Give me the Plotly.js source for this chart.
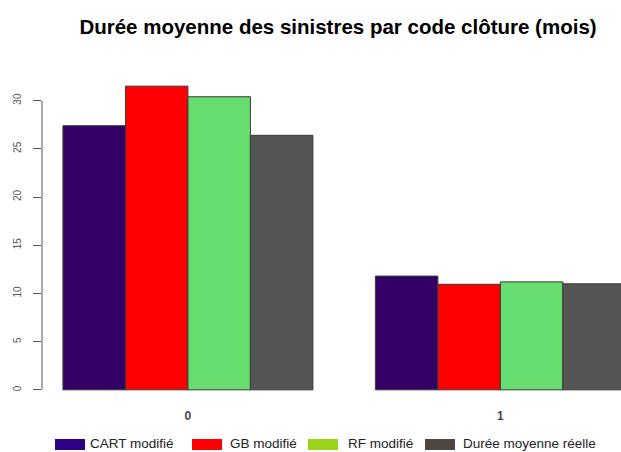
<!DOCTYPE html>
<html>
<head>
<meta charset="utf-8">
<script src="https://cdn.plot.ly/plotly-3.0.1.min.js"></script>
<style>html,body{margin:0;padding:0;background:#fff;}</style>
</head>
<body>
<div id="chart" style="width:621px;height:452px;"></div>
<script>
// Data
const categories = ["0", "1"];
const seriesNames = ["CART modifié", "GB modifié", "RF modifié", "Durée moyenne réelle"];
const cartValues = [27.4, 11.8];
const gbValues = [31.5, 10.95];
const rfValues = [30.4, 11.2];
const dureeValues = [26.4, 11.0];
const yTickVals = [0, 5, 10, 15, 20, 25, 30];
const title = "Durée moyenne des sinistres par code clôture (mois)";

const barColors = ["#330066", "#FF0000", "#66DD6E", "#555555"];
const legendColors = ["#2E0084", "#FF0000", "#99D31A", "#4F4640"];
const allValues = [cartValues, gbValues, rfValues, dureeValues];

const W = 621, H = 452;
const M = {l: 42, r: 0, t: 74, b: 50};
const pw = W - M.l - M.r, ph = H - M.t - M.b;
const px = x => (x - M.l) / pw;
const py = y => (H - M.b - y) / ph;

const traces = allValues.map((vals, i) => ({
  type: "bar",
  x: categories,
  y: vals,
  name: seriesNames[i],
  marker: {color: barColors[i], line: {color: "#3a3a3a", width: 1}},
  showlegend: false,
  hoverinfo: "x+y+name"
}));

// Custom legend (swatches + labels)
const legendItems = [
  {sx: 55, tx: 88},
  {sx: 192, tx: 228},
  {sx: 308, tx: 346},
  {sx: 425, tx: 461}
];
const shapes = [{
  type: "line", xref: "paper", yref: "y",
  x0: 0, x1: 0, y0: yTickVals[0], y1: yTickVals[yTickVals.length - 1],
  line: {color: "#555", width: 1}
}];
const annotations = [];
legendItems.forEach((it, i) => {
  shapes.push({
    type: "rect", xref: "paper", yref: "paper",
    x0: px(it.sx), x1: px(it.sx + 30), y0: py(450), y1: py(439),
    fillcolor: legendColors[i], line: {width: 0}
  });
  annotations.push({
    xref: "paper", yref: "paper", x: px(it.tx), y: py(443.5),
    xanchor: "left", yanchor: "middle", showarrow: false,
    text: seriesNames[i],
    font: {family: "Liberation Sans, Arial, sans-serif", size: 13.5, color: "#222"}
  });
});

const layout = {
  width: W, height: H,
  margin: M,
  paper_bgcolor: "#fff", plot_bgcolor: "#fff",
  title: {
    text: "<b>" + title + "</b>",
    x: 338 / W, xanchor: "center", y: 1 - 27 / H, yanchor: "middle",
    font: {family: "Liberation Sans, Arial, sans-serif", size: 20.5, color: "#000"}
  },
  barmode: "group",
  bargap: 0.2,
  bargroupgap: 0,
  xaxis: {
    type: "category",
    range: [-0.467, 1.386],
    showgrid: false, zeroline: false, showline: false,
    ticks: "",
    tickfont: {family: "Liberation Sans, Arial, sans-serif", size: 12, color: "#444", weight: "bold"},
    ticklabelstandoff: 5
  },
  yaxis: {
    range: [-1.26, 32.76],
    tickvals: yTickVals,
    ticktext: yTickVals.map(String),
    ticks: "outside", ticklen: 8, tickcolor: "#555", tickwidth: 1,
    showgrid: false, zeroline: false, showline: false,
    tickangle: -90,
    tickfont: {family: "Liberation Sans, Arial, sans-serif", size: 10, color: "#555"},
    ticklabelstandoff: 8
  },
  shapes: shapes,
  annotations: annotations
};

Plotly.newPlot("chart", traces, layout, {displayModeBar: false, staticPlot: true});
</script>
</body>
</html>
